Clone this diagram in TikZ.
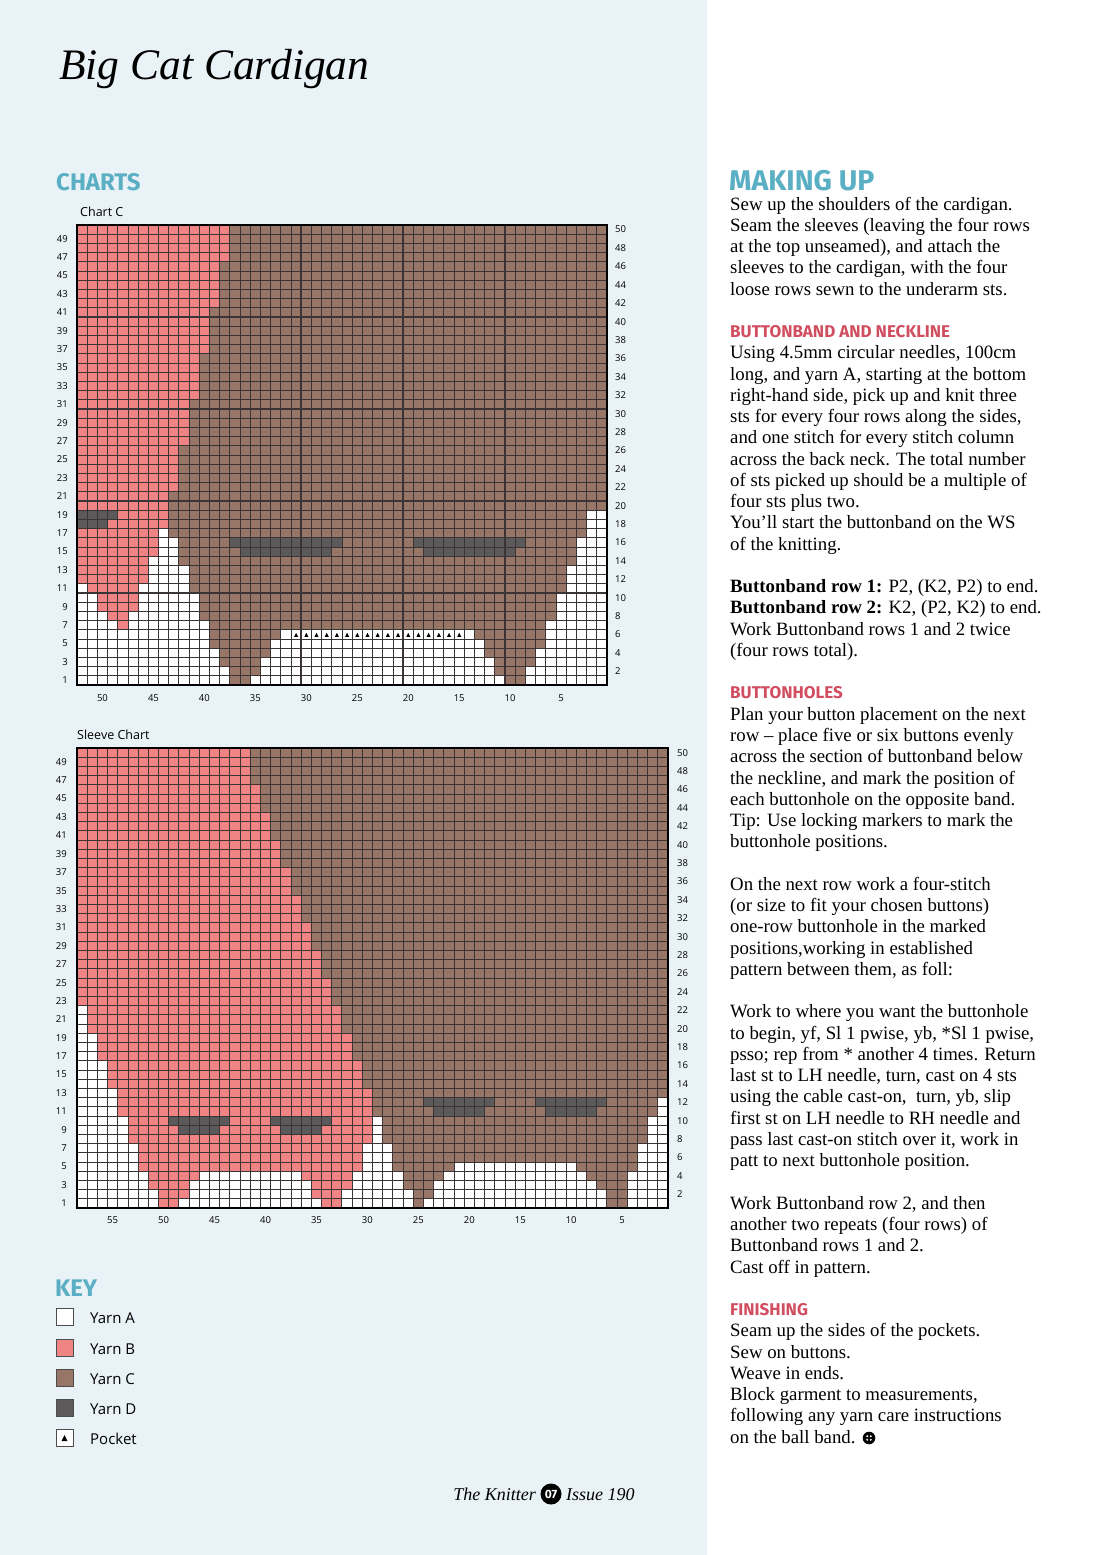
\documentclass[tikz,border=0pt]{standalone}
\usepackage{fontspec}
\setmainfont{Liberation Serif}
\newfontfamily\headfont{Fira Sans}
\newfontfamily\labfont{Open Sans}
\definecolor{bgblue}{HTML}{E9F2F6}
\definecolor{pinkB}{HTML}{F08383}
\definecolor{brownC}{HTML}{977668}
\definecolor{darkD}{HTML}{5B5959}
\definecolor{headteal}{HTML}{5AAFC4}
\definecolor{headred}{HTML}{D14E60}
\definecolor{gridc}{HTML}{3A3434}
\newcommand\crun[4]{\fill[#4] (#2,{50-#1}) rectangle ({#3+1},{51-#1});}
\tikzset{
  body/.style={anchor=base west, inner sep=0pt, font=\fontsize{18.8}{21}\selectfont},
  redhead/.style={anchor=base west, inner sep=0pt, text depth=0pt, text=headred, font=\headfont\bfseries\fontsize{17}{17}\selectfont},
  bluehead/.style={anchor=base west, inner sep=0pt, text depth=0pt, text=headteal, font=\headfont\bfseries\fontsize{24}{24}\selectfont},
  lab/.style={inner sep=0pt, font=\labfont\fontsize{9.5}{9.5}\selectfont},
  gridline/.style={draw=gridc, line width=0.9pt},
  gridthick/.style={draw=gridc, line width=1.5pt},
  frame/.style={draw=black, line width=1.8pt},
  keybox/.style={draw=black!70, line width=0.9pt, minimum size=17pt, inner sep=0pt},
  keylab/.style={anchor=west, inner sep=0pt, font=\labfont\fontsize{15}{15}\selectfont}
}
\begin{document}
\begin{tikzpicture}[x=1pt,y=-1pt]
\useasboundingbox (0,0) rectangle (1100,1555);
\fill[white] (0,0) rectangle (1100,1555);
\fill[bgblue] (0,0) rectangle (707,1555);

% title and headings
\node[anchor=base west, inner sep=0pt, font=\fontsize{43.5}{43.5}\selectfont\itshape] (title) at (59,80) {Big Cat Cardigan};
\node[bluehead] (charts) at (56,190) {CHARTS};
\node[anchor=base west, inner sep=0pt, font=\labfont\fontsize{12.5}{12.5}\selectfont] (chartc) at (80,216) {Chart C};
\node[anchor=base west, inner sep=0pt, font=\labfont\fontsize{12.5}{12.5}\selectfont] (sleevec) at (77,739) {Sleeve Chart};

% ---------------- Chart C ----------------
\begin{scope}[shift={(77,225)},x=10.1923pt,y=-9.2pt]
  \fill[brownC] (0,0) rectangle (52,50);
  \foreach \lo/\hi/\e in {47/50/14, 42/46/13, 37/41/12, 32/36/11, 27/31/10, 22/26/9, 20/21/8}{
    \foreach \r in {\lo,...,\hi}{\crun{\r}{0}{\e}{pinkB}}}
  \foreach \r/\a/\b/\c in {
    19/0/3/darkD, 19/4/8/pinkB, 19/50/51/white,
    18/0/2/darkD, 18/3/8/pinkB, 18/50/51/white,
    17/0/7/pinkB, 17/8/8/white, 17/50/51/white,
    16/0/7/pinkB, 16/8/9/white, 16/15/25/darkD, 16/33/43/darkD, 16/49/51/white,
    15/0/7/pinkB, 15/8/9/white, 15/16/24/darkD, 15/34/42/darkD, 15/49/51/white,
    14/0/6/pinkB, 14/7/9/white, 14/49/51/white,
    13/0/6/pinkB, 13/7/10/white, 13/48/51/white,
    12/0/6/pinkB, 12/7/10/white, 12/48/51/white,
    11/0/0/white, 11/1/5/pinkB, 11/6/10/white, 11/48/51/white,
    10/0/1/white, 10/2/5/pinkB, 10/6/11/white, 10/47/51/white,
    9/0/1/white, 9/2/5/pinkB, 9/6/11/white, 9/47/51/white,
    8/0/2/white, 8/3/4/pinkB, 8/5/11/white, 8/47/51/white,
    7/0/3/white, 7/4/4/pinkB, 7/5/12/white, 7/46/51/white,
    6/0/12/white, 6/20/38/white, 6/46/51/white,
    5/0/12/white, 5/19/39/white, 5/46/51/white,
    4/0/13/white, 4/19/39/white, 4/45/51/white,
    3/0/13/white, 3/18/40/white, 3/45/51/white,
    2/0/14/white, 2/18/40/white, 2/44/51/white,
    1/0/14/white, 1/17/41/white, 1/44/51/white}{\crun{\r}{\a}{\b}{\c}}
  \foreach \c in {21,...,37}
    \fill[black] ({\c+0.3},44.78) -- ({\c+0.7},44.78) -- ({\c+0.5},44.32) -- cycle;
  \foreach \i in {1,...,51} \draw[gridline] (\i,0) -- (\i,50);
  \foreach \j in {1,...,49} \draw[gridline] (0,\j) -- (52,\j);
  \foreach \i in {2,12,22,32,42} \draw[gridthick] (\i,0) -- (\i,50);
  \foreach \j in {10,20,30,40} \draw[gridthick] (0,\j) -- (52,\j);
  \draw[frame] (0,0) rectangle (52,50);
\end{scope}
\foreach \r in {1,3,...,49} \node[lab,anchor=east] (cl\r) at (68,{225+(50.5-\r)*9.2}) {\r};
\foreach \r in {2,4,...,50} \node[lab,anchor=west] (cr\r) at (615,{225+(50.5-\r)*9.2}) {\r};
\foreach \s in {5,10,...,50} \node[lab] (cb\s) at ({77+(52-\s+0.5)*10.1923},698) {\s};

% ---------------- Sleeve chart ----------------
\begin{scope}[shift={(77,748)},x=10.1897pt,y=-9.2pt]
  \fill[brownC] (0,0) rectangle (58,50);
  \foreach \lo/\hi/\e in {47/50/16, 44/46/17, 41/43/18, 38/40/19, 35/37/20, 32/34/21, 29/31/22, 26/28/23, 23/25/24}{
    \foreach \r in {\lo,...,\hi}{\crun{\r}{0}{\e}{pinkB}}}
  \foreach \lo/\hi/\w/\e in {20/22/0/25, 17/19/1/26, 14/16/2/27, 11/13/3/28, 8/10/4/28, 5/7/5/27}{
    \foreach \r in {\lo,...,\hi}{\crun{\r}{0}{\w}{white}\crun{\r}{\w+1}{\e}{pinkB}}}
  \foreach \r/\a/\b/\c in {
    10/29/29/white, 9/29/29/white, 8/29/29/white,
    7/28/30/white, 6/28/30/white, 5/28/30/white,
    4/0/6/white, 4/7/11/pinkB, 4/12/21/white, 4/22/26/pinkB, 4/27/31/white,
    3/0/6/white, 3/7/10/pinkB, 3/11/22/white, 3/23/26/pinkB, 3/27/31/white,
    2/0/7/white, 2/8/10/pinkB, 2/11/22/white, 2/23/25/pinkB, 2/26/32/white,
    1/0/7/white, 1/8/9/pinkB, 1/10/23/white, 1/24/25/pinkB, 1/26/32/white,
    10/9/14/darkD, 10/19/24/darkD, 9/10/13/darkD, 9/20/23/darkD,
    12/34/40/darkD, 12/45/51/darkD, 11/35/39/darkD, 11/46/50/darkD,
    12/57/57/white, 11/57/57/white,
    10/56/57/white, 9/56/57/white, 8/56/57/white,
    7/55/57/white, 6/55/57/white, 5/55/57/white,
    4/54/57/white, 3/54/57/white, 2/54/57/white, 1/54/57/white,
    5/37/48/white, 4/36/49/white, 3/35/50/white, 2/35/51/white, 1/34/51/white}{\crun{\r}{\a}{\b}{\c}}
  \foreach \i in {1,...,57} \draw[gridline] (\i,0) -- (\i,50);
  \foreach \j in {1,...,49} \draw[gridline] (0,\j) -- (58,\j);
  \draw[frame] (0,0) rectangle (58,50);
\end{scope}
\foreach \r in {1,3,...,49} \node[lab,anchor=east] (sl\r) at (67,{748+(50.5-\r)*9.2}) {\r};
\foreach \r in {2,4,...,50} \node[lab,anchor=west] (sr\r) at (677,{748+(50.5-\r)*9.2}) {\r};
\foreach \s in {5,10,...,55} \node[lab] (sb\s) at ({77+(58-\s+0.5)*10.1897},1220) {\s};

% ---------------- Key ----------------
\node[bluehead] (key) at (55,1296) {KEY};
\node[keybox, fill=white] (kA) at (64.5,1317) {};
\node[keybox, fill=pinkB] (kB) at (64.5,1348) {};
\node[keybox, fill=brownC] (kC) at (64.5,1378) {};
\node[keybox, fill=darkD] (kD) at (64.5,1408) {};
\node[keybox, fill=white] (kP) at (64.5,1438) {};
\fill[black] (61.5,1441) -- (67.5,1441) -- (64.5,1435) -- cycle;
\node[keylab] (kAl) at (90,1318) {Yarn A};
\node[keylab] (kBl) at (90,1349) {Yarn B};
\node[keylab] (kCl) at (90,1379) {Yarn C};
\node[keylab] (kDl) at (90,1409) {Yarn D};
\node[keylab] (kPl) at (90,1439) {Pocket};

% ---------------- Footer ----------------
\node[anchor=base east, inner sep=0pt, font=\fontsize{18}{18}\selectfont\itshape] (knitter) at (536,1500) {The Knitter};
\node[circle, fill=black, inner sep=0pt, minimum size=21pt, text=white, font=\headfont\bfseries\fontsize{12}{12}\selectfont] (pgno) at (551,1494) {07};
\node[anchor=base west, inner sep=0pt, font=\fontsize{18}{18}\selectfont\itshape] (issue) at (566,1500) {Issue 190};

% ---------------- Right column ----------------
\node[anchor=base west, inner sep=0pt, text depth=0pt, text=headteal, font=\headfont\bfseries\fontsize{28.5}{28.5}\selectfont] (making) at (729,190) {MAKING UP};
\foreach \k/\t in {
 0/{Sew up the shoulders of the cardigan.},
 1/{Seam the sleeves (leaving the four rows},
 2/{at the top unseamed), and attach the},
 3/{sleeves to the cardigan, with the four},
 4/{loose rows sewn to the underarm sts.},
 7/{Using 4.5mm circular needles, 100cm},
 8/{long, and yarn A, starting at the bottom},
 9/{right-hand side, pick up and knit three},
 10/{sts for every four rows along the sides,},
 11/{and one stitch for every stitch column},
 12/{across the back neck. The total number},
 13/{of sts picked up should be a multiple of},
 14/{four sts plus two.},
 15/{You’ll start the buttonband on the WS},
 16/{of the knitting.},
 18/{{\bfseries Buttonband row 1:} P2, (K2, P2) to end.},
 19/{{\bfseries Buttonband row 2:} K2, (P2, K2) to end.},
 20/{Work Buttonband rows 1 and 2 twice},
 21/{(four rows total).},
 24/{Plan your button placement on the next},
 25/{row – place five or six buttons evenly},
 26/{across the section of buttonband below},
 27/{the neckline, and mark the position of},
 28/{each buttonhole on the opposite band.},
 29/{Tip: Use locking markers to mark the},
 30/{buttonhole positions.},
 32/{On the next row work a four-stitch},
 33/{(or size to fit your chosen buttons)},
 34/{one-row buttonhole in the marked},
 35/{positions,working in established},
 36/{pattern between them, as foll:},
 38/{Work to where you want the buttonhole},
 39/{to begin, yf, Sl 1 pwise, yb, *Sl 1 pwise,},
 40/{psso; rep from * another 4 times. Return},
 41/{last st to LH needle, turn, cast on 4 sts},
 42/{using the cable cast-on,\ \ turn, yb, slip},
 43/{first st on LH needle to RH needle and},
 44/{pass last cast-on stitch over it, work in},
 45/{patt to next buttonhole position.},
 47/{Work Buttonband row 2, and then},
 48/{another two repeats (four rows) of},
 49/{Buttonband rows 1 and 2.},
 50/{Cast off in pattern.},
 53/{Seam up the sides of the pockets.},
 54/{Sew on buttons.},
 55/{Weave in ends.},
 56/{Block garment to measurements,},
 57/{following any yarn care instructions},
 58/{on the ball band.}}
 {\node[body] (b\k) at (730,{210+\k*21.26}) {\t};}
\node[redhead] (hbn) at (730,{210+6*21.26}) {BUTTONBAND AND NECKLINE};
\node[redhead] (hbh) at (730,{210+23*21.26}) {BUTTONHOLES};
\node[redhead] (hfin) at (730,{210+52*21.26}) {FINISHING};
% button end mark
\fill[black] (869,1438) circle (6.3);
\foreach \dx/\dy in {-1.8/-1.8, 1.8/-1.8, -1.8/1.8, 1.8/1.8} \fill[white] ({869+\dx},{1438+\dy}) circle (1.1);
\end{tikzpicture}
\end{document}
